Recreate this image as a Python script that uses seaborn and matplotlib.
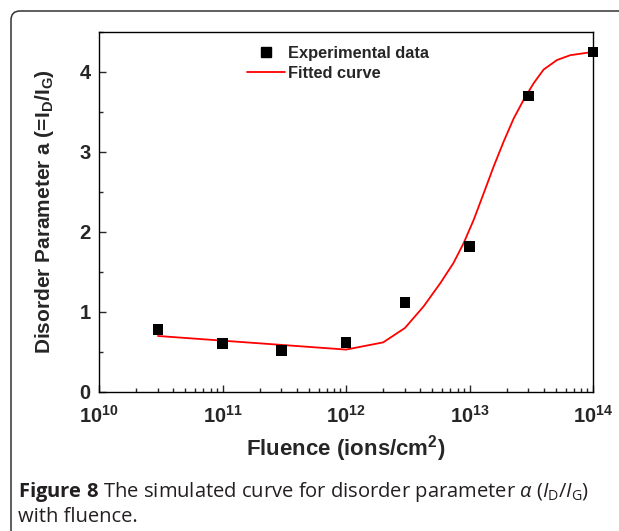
import matplotlib
matplotlib.use("Agg")
import matplotlib.pyplot as plt
import seaborn as sns
import pandas as pd
from matplotlib.lines import Line2D
from matplotlib.patches import FancyBboxPatch
from matplotlib.ticker import FixedLocator, FixedFormatter, LogLocator, NullFormatter, MultipleLocator

# experimental points
fluence = [3e10, 1e11, 3e11, 1e12, 3e12, 1e13, 3e13, 1e14]
alpha = [0.78, 0.61, 0.52, 0.62, 1.12, 1.82, 3.70, 4.25]

# fitted curve
fit_fluence = [3e10, 1e12, 2e12, 3e12, 4.25e12, 5.8e12, 7.4e12, 8.96e12, 1.08e13,
               1.30e13, 1.57e13, 1.89e13, 2.28e13, 2.74e13, 3.31e13, 3.98e13,
               5.12e13, 6.56e13, 8.96e13, 1e14]
fit_alpha = [0.70, 0.53, 0.62, 0.80, 1.07, 1.36, 1.61, 1.86, 2.15,
             2.48, 2.82, 3.13, 3.42, 3.65, 3.86, 4.03,
             4.15, 4.21, 4.24, 4.25]

xticks = [1e10, 1e11, 1e12, 1e13, 1e14]
xticklabels = [r"$10^{10}$", r"$10^{11}$", r"$10^{12}$", r"$10^{13}$", r"$10^{14}$"]
yticks = [0, 1, 2, 3, 4]

df_exp = pd.DataFrame({"fluence": fluence, "alpha": alpha})
df_fit = pd.DataFrame({"fluence": fit_fluence, "alpha": fit_alpha})

sns.set_style("ticks")
plt.rcParams["font.family"] = ["Liberation Sans", "DejaVu Sans"]
plt.rcParams["mathtext.default"] = "regular"
plt.rcParams["mathtext.fontset"] = "custom"
plt.rcParams["mathtext.rm"] = "Open Sans"
plt.rcParams["mathtext.it"] = "Open Sans:italic"
plt.rcParams["mathtext.bf"] = "Open Sans:bold"

fig = plt.figure(figsize=(6.19, 5.31), dpi=100)
ax = fig.add_axes([0.160, 0.2618, 0.798, 0.678])

sns.lineplot(data=df_fit, x="fluence", y="alpha", ax=ax, color="#ff0000",
             linewidth=1.3, estimator=None, sort=False, zorder=2)
sns.scatterplot(data=df_exp, x="fluence", y="alpha", ax=ax, marker="s", s=60,
                color="black", edgecolor="none", zorder=3, clip_on=False)

ax.set_xscale("log")
ax.set_xlim(1e10, 1e14)
ax.set_ylim(0, 4.5)

ax.xaxis.set_major_locator(FixedLocator(xticks))
ax.xaxis.set_major_formatter(FixedFormatter(xticklabels))
ax.xaxis.set_minor_locator(LogLocator(base=10, subs=range(2, 10)))
ax.xaxis.set_minor_formatter(NullFormatter())
ax.yaxis.set_major_locator(FixedLocator(yticks))
ax.yaxis.set_minor_locator(MultipleLocator(0.5))

ax.tick_params(which="major", direction="in", length=5, width=1,
               labelsize=14.5, top=False, right=False)
ax.tick_params(axis="x", which="major", pad=9)
ax.tick_params(axis="y", which="major", pad=6)
ax.tick_params(which="minor", direction="in", length=3, width=1, top=False, right=False)
for lab in ax.get_xticklabels() + ax.get_yticklabels():
    lab.set_fontweight("bold")

for sp in ax.spines.values():
    sp.set_linewidth(1.0)
    sp.set_color("black")

ax.set_xlabel(r"Fluence (ions/cm$^{2}$)", fontsize=16, fontweight="bold", labelpad=5)
ax.set_ylabel(r"Disorder Parameter a (=I$_{D}$/I$_{G}$)", fontsize=15, fontweight="bold", labelpad=17)

handles = [
    Line2D([], [], marker="s", color="black", linestyle="none", markersize=7.5),
    Line2D([], [], color="#ff0000", linewidth=1.3),
]
ax.legend(handles, ["Experimental data", "Fitted curve"], loc="upper left",
          bbox_to_anchor=(0.30, 0.962), frameon=False, borderpad=0, borderaxespad=0,
          handlelength=2.3, handletextpad=0.2, labelspacing=0.3,
          prop={"weight": "bold", "size": 11.8})

# rounded frame around the figure panel
frame = FancyBboxPatch((0.11, -0.5), 7.0, 5.20 + 0.5,
                       boxstyle="round,pad=0,rounding_size=0.09",
                       transform=fig.dpi_scale_trans, fill=False,
                       edgecolor="#333333", linewidth=1.1, clip_on=False)
fig.patches.append(frame)

cap_color = "#231f20"
fig.text(0.029, 1 - 497 / 531,
         r"$\mathbf{Figure\ 8}$ The simulated curve for disorder parameter $\mathit{\alpha}$ ($\mathit{I}_{\mathrm{D}}$/$\mathit{I}_{\mathrm{G}}$)",
         family="Open Sans", fontsize=14.5, color=cap_color, va="baseline", ha="left")
fig.text(0.029, 1 - 522 / 531, "with fluence.", family="Open Sans", fontsize=14.5,
         color=cap_color, va="baseline", ha="left")

fig.savefig("out.png", dpi=100)
